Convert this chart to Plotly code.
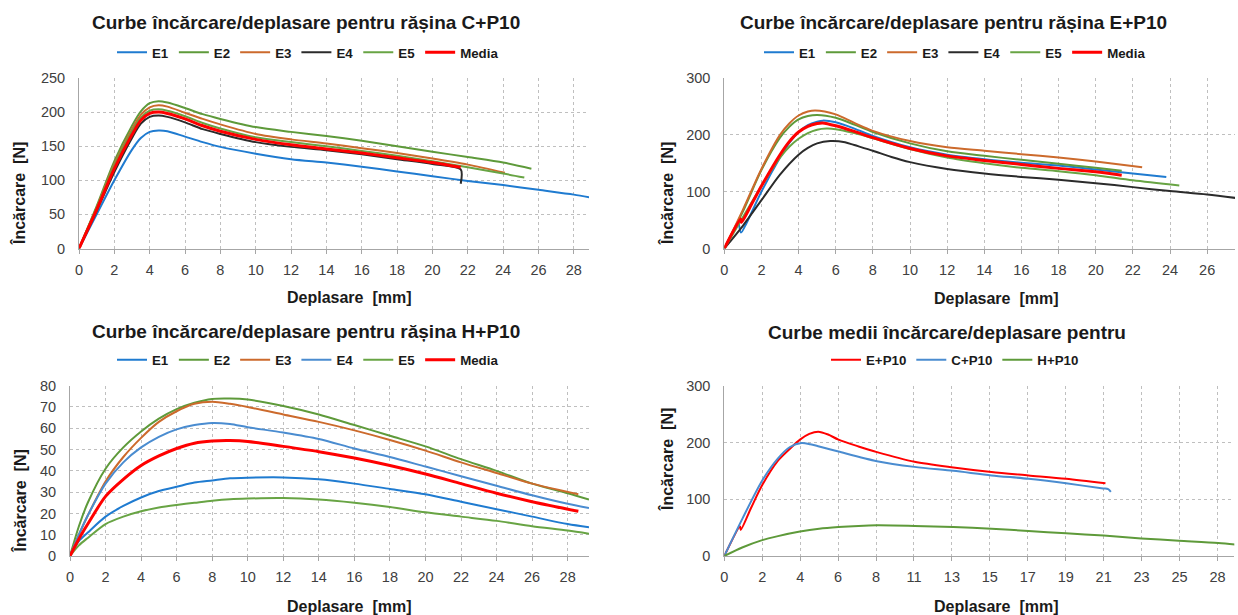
import plotly.graph_objects as go

FONT = "Liberation Sans, Arial, sans-serif"
W, H = 1238, 615

# ---------------- Panel 1: C+P10 ----------------
c_x_e1 = [0, 1, 2, 3, 3.5, 4, 4.5, 5, 6, 7, 8, 10, 12, 14, 16, 18, 20, 22, 24, 26, 28, 28.9]
c_y_e1 = [0, 50, 100, 145, 162, 171, 173, 172, 164, 156, 149, 139, 131, 126, 120, 113, 106, 99, 93, 86, 79, 75]
c_x_e2 = [0, 1, 2, 3, 3.5, 4, 4.5, 5, 6, 7, 8, 10, 12, 14, 16, 18, 20, 22, 24, 25.6]
c_y_e2 = [0, 62, 128, 180, 201, 213, 216, 214, 206, 197, 190, 178, 171, 165, 158, 150, 142, 134, 126, 117]
c_x_e3 = [0, 1, 2, 3, 3.5, 4, 4.5, 5, 6, 7, 8, 10, 12, 14, 16, 18, 20, 22, 24.1]
c_y_e3 = [0, 60, 124, 175, 196, 207, 210, 208, 199, 190, 182, 168, 160, 154, 147, 140, 132, 123, 111]
c_x_e4 = [0, 1, 2, 3, 3.5, 4, 4.5, 5, 6, 7, 8, 10, 12, 14, 16, 18, 20, 21.6, 21.6]
c_y_e4 = [0, 55, 112, 162, 183, 193, 195, 193, 185, 175, 168, 156, 149, 144, 138, 131, 124, 116, 95]
c_x_e5 = [0, 1, 2, 3, 3.5, 4, 4.5, 5, 6, 7, 8, 10, 12, 14, 16, 18, 20, 22, 24, 25.2]
c_y_e5 = [0, 60, 122, 172, 192, 202, 204, 202, 194, 184, 176, 163, 156, 150, 143, 136, 128, 119, 110, 104]
c_x_m = [0, 1, 2, 3, 3.5, 4, 4.5, 5, 6, 7, 8, 10, 12, 14, 16, 18, 20, 21.6]
c_y_m = [0, 57, 117, 167, 188, 198, 200, 198, 190, 180, 172, 160, 152, 146, 140, 133, 126, 119]

# ---------------- Panel 2: E+P10 ----------------
e_x_e1 = [0.78, 0.9, 1.2, 2, 3, 3.5, 4, 4.5, 5, 5.3, 6, 7, 8, 10, 12, 14, 16, 18, 20, 22, 23.8]
e_y_e1 = [45, 28, 45, 100, 160, 186, 205, 217, 223, 225, 222, 211, 198, 178, 165, 157, 151, 146, 139, 132, 126]
e_x_e2 = [0, 1, 2, 3, 3.5, 4, 4.5, 5, 6, 7, 8, 10, 12, 14, 16, 18, 20, 21.4]
e_y_e2 = [0, 65, 138, 195, 214, 227, 233, 235, 230, 218, 205, 185, 171, 163, 156, 149, 142, 137]
e_x_e3 = [0, 1, 2, 3, 3.5, 4, 4.5, 4.9, 6, 7, 8, 10, 12, 14, 16, 18, 20, 22.5]
e_y_e3 = [0, 68, 140, 200, 220, 234, 241, 243, 236, 221, 207, 189, 178, 172, 166, 160, 153, 143]
e_x_e4 = [0, 1, 2, 3, 4, 4.5, 5, 5.7, 6.5, 7, 8, 9, 10, 12, 14, 16, 18, 20, 22, 24, 26, 28]
e_y_e4 = [0, 40, 85, 130, 165, 177, 185, 189, 187, 182, 172, 161, 152, 140, 132, 126, 121, 115, 108, 101, 95, 87]
e_x_e5 = [0, 1, 2, 3, 3.5, 4, 4.5, 5, 5.5, 6, 7, 8, 10, 12, 14, 16, 18, 20, 22, 24.5]
e_y_e5 = [0, 55, 110, 160, 179, 193, 203, 209, 211, 210, 203, 194, 175, 160, 150, 142, 136, 129, 120, 111]
e_x_m = [0, 0.88, 0.92, 1.5, 2, 3, 3.5, 4, 4.5, 5, 5.3, 6, 7, 8, 10, 12, 14, 16, 18, 20, 21.4]
e_y_m = [0, 52, 46, 80, 110, 165, 188, 205, 215, 220, 221, 216, 206, 195, 176, 163, 155, 148, 141, 135, 129]

# ---------------- Panel 3: H+P10 ----------------
h_x = [0, 0.5, 1, 2, 3, 4, 5, 6, 7, 8, 9, 10, 12, 14, 16, 18, 20, 22, 24, 26, 28, 29.2]
h_y_e1 = [0, 7, 11, 18.5, 23.5, 27.5, 30.5, 32.5, 34.5, 35.5, 36.5, 36.8, 36.9, 36, 34, 31.5, 29, 25.5, 22, 18.5, 15, 13.5]
h_y_e2 = [0, 14, 25, 41, 51, 58.5, 64.5, 69, 72, 73.8, 74, 73.5, 70.5, 66.5, 61.5, 56.5, 51.5, 45.5, 40, 34, 29.5, 26.5]
h_y_e4 = [0, 10, 19, 34, 44, 51, 56, 59.5, 61.5, 62.5, 62, 60.5, 58, 55, 50.5, 46.5, 42, 37.5, 33, 28.5, 24.5, 22.5]
h_y_e5 = [0, 5, 8.5, 15, 18.5, 21, 22.8, 24, 25, 26, 26.7, 27, 27.2, 26.5, 25, 23, 20.5, 18.5, 16.5, 14, 12, 10.5]
h_x_short = [0, 0.5, 1, 2, 3, 4, 5, 6, 7, 8, 9, 10, 12, 14, 16, 18, 20, 22, 24, 26, 28.6]
h_y_e3 = [0, 10, 19, 35, 46.5, 55.5, 63, 68, 71.5, 72.5, 71.5, 70, 66.5, 63, 59, 54.5, 49.5, 44, 39, 34, 29]
h_y_m = [0, 8, 15, 28, 36, 42.5, 47, 50.5, 53, 54, 54.2, 53.8, 51.5, 49, 46, 42.5, 38.5, 34, 29.5, 25.5, 21]

# ---------------- Panel 4: average curves ----------------
a_x_e = [0, 0.88, 0.92, 1.5, 2.12, 3, 3.67, 4.23, 4.75, 5.25, 5.8, 6.38, 7.5, 8.53, 10.63, 12.8, 14.93, 17, 19.1, 21.3]
a_y_e = [0, 52, 46, 85, 125, 168, 189, 205, 215, 219, 214, 205, 193, 183, 166, 156, 148, 142, 136, 128]
a_x_c = [0, 1, 2.12, 3, 3.67, 4.32, 4.8, 5.3, 6.38, 8.53, 10.63, 12.8, 14.93, 17, 19.1, 21.17, 21.45, 21.6]
a_y_c = [0, 65, 133, 172, 192, 199, 197, 193, 184, 167, 157, 150, 142, 136, 128, 119, 118, 113]
a_x_h = [0, 1, 2.12, 3, 4.23, 5.3, 6.38, 7.5, 8.53, 10.63, 12.8, 14.93, 17, 19.1, 21.2, 23.3, 25.4, 27.6, 28.6]
a_y_h = [0, 15, 28, 35, 43, 48, 51, 53, 54, 53, 51, 48, 44, 40, 36, 31, 27, 23, 20]
a_tick_text = ["0", "2", "4", "6", "8", "11", "13", "15", "17", "19", "21", "23", "25", "28"]
a_tick_step = 2.12

# ---------------- Text ----------------
titles = ["Curbe încărcare/deplasare pentru rășina C+P10",
          "Curbe încărcare/deplasare pentru rășina E+P10",
          "Curbe încărcare/deplasare pentru rășina H+P10",
          "Curbe medii încărcare/deplasare pentru"]
x_title = "Deplasare  [mm]"
y_title = "Încărcare  [N]"
names = ["E1", "E2", "E3", "E4", "E5", "Media"]
avg_names = ["E+P10", "C+P10", "H+P10"]

BLUE = "#1F7BD0"
BLUE2 = "#4A8CD0"
GREEN = "#5E9A3A"
GREEN2 = "#68A444"
ORANGE = "#CC6A2C"
BLACK = "#2B2B2B"
RED = "#FF0000"

fig = go.Figure()


def add(x, y, name, color, ax, legend, width=2.0):
    fig.add_trace(go.Scatter(
        x=x, y=y, name=name, mode="lines",
        line=dict(color=color, width=width, shape="spline", smoothing=0.8),
        xaxis="x" + ax, yaxis="y" + ax, legend=legend, hoverinfo="skip"))


# panel 1
add(c_x_e1, c_y_e1, names[0], BLUE, "", "legend")
add(c_x_e2, c_y_e2, names[1], GREEN, "", "legend")
add(c_x_e3, c_y_e3, names[2], ORANGE, "", "legend")
add(c_x_e4, c_y_e4, names[3], BLACK, "", "legend")
add(c_x_e5, c_y_e5, names[4], GREEN2, "", "legend")
add(c_x_m, c_y_m, names[5], RED, "", "legend", 3)
# panel 2
add(e_x_e1, e_y_e1, names[0], BLUE, "2", "legend2")
add(e_x_e2, e_y_e2, names[1], GREEN, "2", "legend2")
add(e_x_e3, e_y_e3, names[2], ORANGE, "2", "legend2")
add(e_x_e4, e_y_e4, names[3], BLACK, "2", "legend2")
add(e_x_e5, e_y_e5, names[4], GREEN2, "2", "legend2")
add(e_x_m, e_y_m, names[5], RED, "2", "legend2", 3)
# panel 3
add(h_x, h_y_e1, names[0], BLUE, "3", "legend3")
add(h_x, h_y_e2, names[1], GREEN, "3", "legend3")
add(h_x_short, h_y_e3, names[2], ORANGE, "3", "legend3")
add(h_x, h_y_e4, names[3], BLUE2, "3", "legend3")
add(h_x, h_y_e5, names[4], GREEN2, "3", "legend3")
add(h_x_short, h_y_m, names[5], RED, "3", "legend3", 3)
# panel 4
add(a_x_e, a_y_e, avg_names[0], RED, "4", "legend4")
add(a_x_c, a_y_c, avg_names[1], BLUE2, "4", "legend4")
add(a_x_h, a_y_h, avg_names[2], GREEN, "4", "legend4")


def px_x(p):
    return p / W


def px_y(p):
    return 1 - p / H


GRID = "#BFBFBF"
AXL = "#A6A6A6"
TICKF = dict(family=FONT, size=14.5, color="#404040")


def xax(dom, rng, anchor, **kw):
    d = dict(domain=dom, range=rng, anchor=anchor, showgrid=True, gridcolor=GRID,
             griddash="dot", gridwidth=1, showline=True, linecolor=AXL, linewidth=1,
             ticks="outside", ticklen=4, tickcolor=AXL, tickfont=TICKF, zeroline=False,
             ticklabelstandoff=4, fixedrange=True, automargin=False)
    d.update(kw)
    return d


def yax(dom, rng, anchor, dtick):
    return dict(domain=dom, range=rng, anchor=anchor, showgrid=True, gridcolor=GRID,
                griddash="dot", gridwidth=1, showline=True, linecolor=AXL, linewidth=1,
                ticks="", tickfont=TICKF, zeroline=False, dtick=dtick, tick0=0,
                ticklabelstandoff=10, fixedrange=True, automargin=False)


top_dom = [px_y(248.5), px_y(78)]
bot_dom = [px_y(556), px_y(385.7)]

a_tick_vals = [i * a_tick_step for i in range(len(a_tick_text))]

fig.update_layout(
    width=W, height=H,
    margin=dict(l=0, r=0, t=0, b=0, pad=0, autoexpand=False),
    paper_bgcolor="white", plot_bgcolor="white",
    font=dict(family=FONT, color="#1A1A1A"),
    xaxis=xax([px_x(79), px_x(589)], [0, 28.86], "y", dtick=2, tick0=0),
    yaxis=yax(top_dom, [0, 250], "x", 50),
    xaxis2=xax([px_x(724.3), px_x(1235)], [0, 27.5], "y2", dtick=2, tick0=0),
    yaxis2=yax(top_dom, [0, 300], "x2", 100),
    xaxis3=xax([px_x(70), px_x(589)], [0, 29.2], "y3", dtick=2, tick0=0),
    yaxis3=yax(bot_dom, [0, 80], "x3", 10),
    xaxis4=xax([px_x(724.3), px_x(1234.3)], [0, 28.5], "y4",
               tickmode="array", tickvals=a_tick_vals, ticktext=a_tick_text),
    yaxis4=yax(bot_dom, [0, 300], "x4", 100),
    showlegend=True,
)

LEGF = dict(family=FONT, size=13.3, color="#1A1A1A", weight="bold")


def leg(cx, cy):
    return dict(orientation="h", x=px_x(cx), y=px_y(cy), xanchor="center", yanchor="middle",
                font=LEGF, bgcolor="rgba(0,0,0,0)", itemclick=False, itemdoubleclick=False,
                tracegroupgap=0)


fig.update_layout(legend=leg(308, 52.7), legend2=leg(955, 52.7),
                  legend3=leg(308, 360), legend4=leg(955, 360))

ann = []
for t, cx, cy in zip(titles, [306, 953, 306, 947], [22.7, 22.7, 331.7, 332]):
    ann.append(dict(text=t, x=px_x(cx), y=px_y(cy), xref="paper", yref="paper",
                    showarrow=False, xanchor="center", yanchor="middle",
                    font=dict(family=FONT, size=19, color="#1A1A1A", weight="bold")))
for cx, cy in [(349, 297), (996, 298), (349, 606), (996, 606)]:
    ann.append(dict(text=x_title, x=px_x(cx), y=px_y(cy), xref="paper", yref="paper",
                    showarrow=False, xanchor="center", yanchor="middle",
                    font=dict(family=FONT, size=16, color="#1A1A1A", weight="bold")))
for cx, cy in [(19, 194), (667, 194), (19, 501.5), (667, 460)]:
    ann.append(dict(text=y_title, x=px_x(cx), y=px_y(cy), xref="paper", yref="paper",
                    showarrow=False, xanchor="center", yanchor="middle", textangle=-90,
                    font=dict(family=FONT, size=16, color="#1A1A1A", weight="bold")))
fig.update_layout(annotations=ann)

fig.write_html("out.html", config={"displayModeBar": False})
